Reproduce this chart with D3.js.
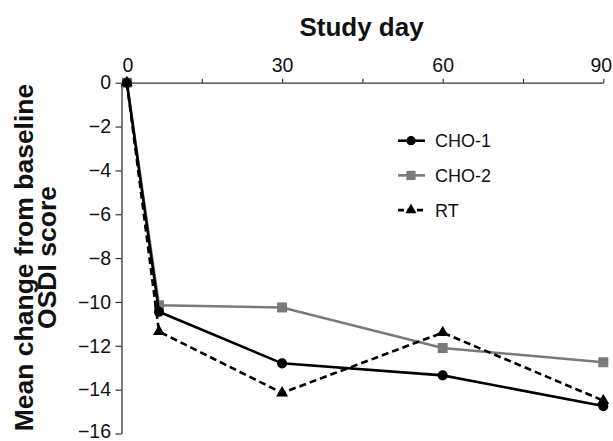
<!DOCTYPE html>
<html><head><meta charset="utf-8">
<script src="https://cdn.jsdelivr.net/npm/d3@7"></script>
<style>body{margin:0;background:#fff}svg{display:block;font-family:"Liberation Sans",Arial,sans-serif}</style>
</head><body>
<svg id="c" width="613" height="441"></svg>
<script>
const days = [1, 7, 30, 60, 90];
const cho1 = [0, -10.45, -12.8, -13.35, -14.75];
const cho2 = [0, -10.15, -10.25, -12.1, -12.75];
const rt = [0, -11.35, -14.15, -11.4, -14.5];
const seriesNames = ["CHO-1", "CHO-2", "RT"];
const xTicks = [0, 15, 30, 45, 60, 75, 90];
const xLabels = [0, 30, 60, 90];
const yTicks = [0, -2, -4, -6, -8, -10, -12, -14, -16];

const svg = d3.select("#c");
const x = d3.scaleLinear().domain([0, 90]).range([121.5, 603.3]);
const y = d3.scaleLinear().domain([0, -16]).range([82.7, 433.5]);

// Top x axis
const gx = svg.append("g").attr("transform", `translate(0,${y(0)})`)
  .call(d3.axisTop(x).tickValues(xTicks).tickSize(4).tickSizeOuter(0)
    .tickFormat(d => xLabels.includes(d) ? d : ""));
gx.select(".domain").attr("stroke", "#333").attr("stroke-width", 1.3);
gx.selectAll(".tick line").attr("stroke", "#333").attr("stroke-width", 1.2);
gx.selectAll(".tick text").attr("font-size", 19.5).attr("fill", "#111").attr("dy", "-0.2em");
gx.selectAll(".tick").filter(d => d === 0).select("text").attr("dx", 6);
gx.selectAll(".tick").filter(d => d === 90).select("text").attr("dx", -2.5);
gx.selectAll(".tick").filter(d => d === 0).select("line").remove();

// Left y axis
const gy = svg.append("g").attr("transform", `translate(${x(0)},0)`)
  .call(d3.axisLeft(y).tickValues(yTicks).tickSize(6).tickSizeOuter(0)
    .tickFormat(d => d < 0 ? "\u2212" + Math.abs(d) : d));
gy.select(".domain").attr("stroke", "#333").attr("stroke-width", 1.3);
gy.selectAll(".tick line").attr("stroke", "#333").attr("stroke-width", 1.2);
gy.selectAll(".tick text").attr("font-size", 19.5).attr("fill", "#111").attr("x", -10.5);
gy.selectAll(".tick").filter(d => d === -16).select("text").attr("dy", "0.2em");

// Titles
svg.append("text").attr("x", 361.5).attr("y", 36).attr("text-anchor", "middle")
  .attr("font-size", 26).attr("font-weight", "bold").attr("fill", "#111").text("Study day");
const yt = svg.append("g").attr("transform", "translate(33,257.5) rotate(-90)");
yt.append("text").attr("x", 0).attr("y", 0).attr("text-anchor", "middle")
  .attr("font-size", 26.5).attr("font-weight", "bold").attr("fill", "#111").text("Mean change from baseline");
yt.append("text").attr("x", 0).attr("y", 23).attr("text-anchor", "middle")
  .attr("font-size", 26.5).attr("font-weight", "bold").attr("fill", "#111").text("OSDI score");

const styles = {
  "CHO-1": {color: "#000", dash: null, shape: d3.symbolCircle, size: 80},
  "CHO-2": {color: "#7a7a7a", dash: null, shape: d3.symbolSquare, size: 100},
  "RT": {color: "#000", dash: "7,4", shape: d3.symbolTriangle, size: 62}
};
const data = {"CHO-1": cho1, "CHO-2": cho2, "RT": rt};
const line = d3.line().x(d => x(d[0])).y(d => y(d[1]));
const drawOrder = ["CHO-2", "RT", "CHO-1"];
drawOrder.forEach(name => {
  const st = styles[name];
  const pts = days.map((d, i) => [d, data[name][i]]);
  svg.append("path").datum(pts).attr("d", line).attr("fill", "none")
    .attr("stroke", st.color).attr("stroke-width", 2.6)
    .attr("stroke-dasharray", st.dash);
  svg.append("g").selectAll("path").data(pts).join("path")
    .attr("transform", d => `translate(${x(d[0])},${y(d[1])})`)
    .attr("d", d3.symbol().type(st.shape).size(st.size))
    .attr("fill", st.color);
});

// Legend
const lg = svg.append("g");
seriesNames.forEach((name, i) => {
  const st = styles[name];
  const yy = 140.7 + i * 34.7;
  lg.append("line").attr("x1", 398).attr("x2", 425).attr("y1", yy).attr("y2", yy)
    .attr("stroke", st.color).attr("stroke-width", 2.6).attr("stroke-dasharray", name === "RT" ? "6,3.5" : null);
  lg.append("path").attr("transform", `translate(411,${yy})`)
    .attr("d", d3.symbol().type(st.shape).size(st.size * 0.85)).attr("fill", st.color);
  lg.append("text").attr("x", 435).attr("y", yy + 6.5).attr("font-size", 18)
    .attr("fill", "#111").text(name);
});
</script>
</body></html>
